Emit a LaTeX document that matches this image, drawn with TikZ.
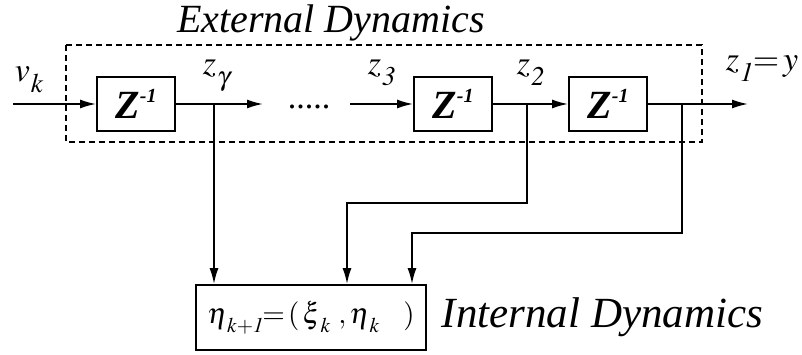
\documentclass[tikz,border=0pt]{standalone}
\usepackage{mathptmx}
\usepackage[no-math]{fontspec}
\setmainfont{Liberation Serif}
\usetikzlibrary{arrows,arrows.meta,calc,positioning}

\newcommand{\zinv}{{\fontsize{40}{40}\selectfont\bfseries\itshape Z}\raisebox{16pt}{\fontsize{20}{20}\selectfont\bfseries\itshape -1}}
\newcommand{\lowsub}[2]{$#1$\kern1pt\raisebox{-11pt}{\fontsize{27}{27}\selectfont$#2$}}
\newcommand{\etasub}[1]{\raisebox{-9pt}{\fontsize{21}{21}\selectfont$#1$}}

\begin{document}
\begin{tikzpicture}[x=1pt,y=1pt,line width=1.8pt,>={Latex[length=16pt,width=9pt]},
  font=\fontsize{34}{36}\selectfont,
  delay/.style={draw,minimum width=78pt,minimum height=54pt,inner sep=0pt},
  lbl/.style={inner sep=0pt},
  title/.style={inner sep=0pt,font=\fontsize{40}{42}\selectfont\itshape}]
\useasboundingbox (0,0) rectangle (802,355);

% external dynamics
\draw[dashed,dash pattern=on 6pt off 4pt] (66,310) rectangle (702,213);
\node[title] (ext) at (331,332) {External Dynamics};

\coordinate (in) at (13,251);
\node[delay] (d1) at (136,251) {\zinv};
\node[delay] (d2) at (453,251) {\zinv};
\node[delay] (d3) at (608,251) {\zinv};

\coordinate (tg) at (214,251);
\coordinate (gend) at (263,251);
\coordinate (zthree) at (350,251);
\coordinate (t2) at (527,251);
\coordinate (t1) at (682,251);
\coordinate (out) at (748,251);

\node[lbl] (dots) at (309,248) {.....};

\draw[->] (in) -- (d1);
\draw (d1) -- (tg);
\draw[->] (tg) -- (gend);
\draw[->] (zthree) -- (d2);
\draw (d2) -- (t2);
\draw[->] (t2) -- (d3);
\draw (d3) -- (t1);
\draw[->] (t1) -- (out);

\node[lbl,anchor=base west] at ($(in) + (1,22)$) {\lowsub{v}{k}};
\node[lbl,anchor=base west] at ($(tg) + (-12,29)$) {\lowsub{z}{\gamma}};
\node[lbl,anchor=base west] at ($(zthree) + (17,29)$) {\lowsub{z}{\mathit{3}}};
\node[lbl,anchor=base west] at ($(t2) + (-11,29)$) {\lowsub{z}{\mathit{2}}};
\node[lbl,anchor=base west] at ($(out) + (-23,33)$) {\lowsub{z}{\mathit{1}}\kern3pt$\!=\!y$};

% internal dynamics
\node[draw,minimum width=230pt,minimum height=65pt,inner sep=0pt,
  font=\fontsize{29}{31}\selectfont] (eta) at (311,37.5)
  {$\eta$\etasub{k{+}\mathit{1}}\kern2pt$\!=\!(\,\xi$\etasub{k}\;$,\eta$\etasub{k}\;\;\;$)$};
\node[title,right=14pt of eta,font=\fontsize{43}{45}\selectfont\itshape] (int) {Internal Dynamics};

\coordinate (e2) at (347,152);
\coordinate (e1) at (412,122);

\draw[->] (tg) -- (tg |- eta.north);
\draw[->] (t2) |- (e2) -- (e2 |- eta.north);
\draw[->] (t1) |- (e1) -- (e1 |- eta.north);
\end{tikzpicture}
\end{document}
